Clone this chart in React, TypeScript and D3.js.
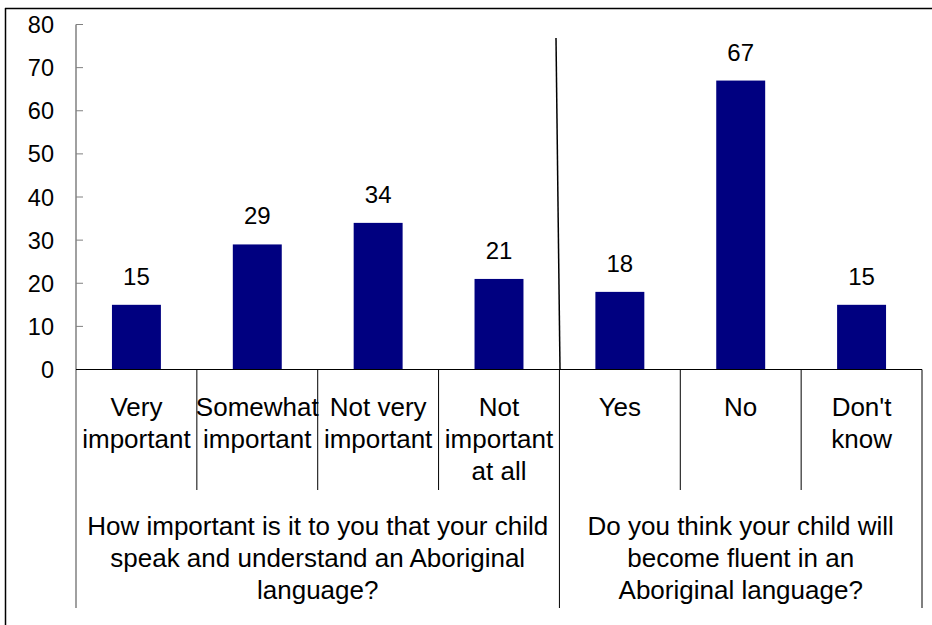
import React from "react";
import * as d3 from "d3";

const categories = ["Very important", "Somewhat important", "Not very important", "Not important at all", "Yes", "No", "Don't know"];
const categoryLines = [["Very", "important"], ["Somewhat", "important"], ["Not very", "important"], ["Not", "important", "at all"], ["Yes"], ["No"], ["Don't", "know"]];
const values = [15, 29, 34, 21, 18, 67, 15];
const yTicks = [0, 10, 20, 30, 40, 50, 60, 70, 80];
const groups = [
  { start: 0, end: 4, lines: ["How important is it to you that your child", "speak and understand an Aboriginal", "language?"] },
  { start: 4, end: 7, lines: ["Do you think your child will", "become fluent in an", "Aboriginal language?"] },
];

const W = 932, H = 625;
const left = 76, right = 922, yZero = 369.5, yTop = 24.5;
const FONT = "'Liberation Sans', Arial, sans-serif";

export default function App() {
  const x = d3.scaleBand<string>().domain(categories).range([left, right]).paddingInner(0).paddingOuter(0);
  const y = d3.scaleLinear().domain([0, 80]).range([yZero, yTop]);
  const bw = x.bandwidth();
  const barW = bw * 0.405;
  const catBottom = 490, grpBottom = 608;
  const sepIndices = d3.range(1, categories.length + 1);
  return (
    <svg width={W} height={H} style={{ position: "absolute", left: 0, top: 0, background: "#fff" }} fontFamily={FONT}>
      <rect x={0} y={0} width={W} height={H} fill="#fff" />
      {/* outer frame */}
      <line x1={5} y1={8.5} x2={W} y2={8.5} stroke="#000" strokeWidth={1.5} />
      <line x1={5.5} y1={8} x2={5.5} y2={H} stroke="#000" strokeWidth={1.5} />
      {/* y axis */}
      <line x1={left} y1={yTop} x2={left} y2={grpBottom} stroke="#808080" strokeWidth={1.5} />
      {yTicks.map((t) => (
        <g key={t}>
          {t > 0 && <line x1={left} x2={left + 7} y1={y(t)} y2={y(t)} stroke="#808080" strokeWidth={1} />}
          <text x={54} y={y(t) + 8.5} textAnchor="end" fontSize={23.5} fill="#000">{t}</text>
        </g>
      ))}
      {/* bars */}
      {categories.map((c, i) => (
        <g key={c}>
          <rect x={x(c)! + bw / 2 - barW / 2} y={y(values[i])} width={barW} height={yZero - y(values[i])} fill="#000080" />
          <text x={x(c)! + bw / 2} y={y(values[i]) - 20} textAnchor="middle" fontSize={24} fill="#000">{values[i]}</text>
        </g>
      ))}
      {/* baseline */}
      <line x1={left} x2={right} y1={yZero} y2={yZero} stroke="#000" strokeWidth={1.2} />
      {/* category separators */}
      {sepIndices.map((i) => {
        const xx = left + i * bw;
        const isGroup = groups.some((g) => g.end === i);
        return <line key={i} x1={xx} x2={xx} y1={yZero} y2={isGroup ? grpBottom : catBottom} stroke="#000" strokeWidth={1} />;
      })}
      {/* group divider in plot */}
      <line x1={556} y1={38} x2={560} y2={yZero} stroke="#000" strokeWidth={1.5} />
      {/* category labels */}
      {categories.map((c, i) => (
        <text key={c} x={x(c)! + bw / 2} textAnchor="middle" fontSize={26} fill="#000">
          {categoryLines[i].map((l, j) => (
            <tspan key={j} x={x(c)! + bw / 2} y={416 + j * 32}>{l}</tspan>
          ))}
        </text>
      ))}
      {/* group labels */}
      {groups.map((g, gi) => {
        const cx = left + ((g.start + g.end) / 2) * bw;
        return (
          <text key={gi} textAnchor="middle" fontSize={26} fill="#000">
            {g.lines.map((l, j) => (
              <tspan key={j} x={cx} y={535 + j * 32}>{l}</tspan>
            ))}
          </text>
        );
      })}
    </svg>
  );
}
